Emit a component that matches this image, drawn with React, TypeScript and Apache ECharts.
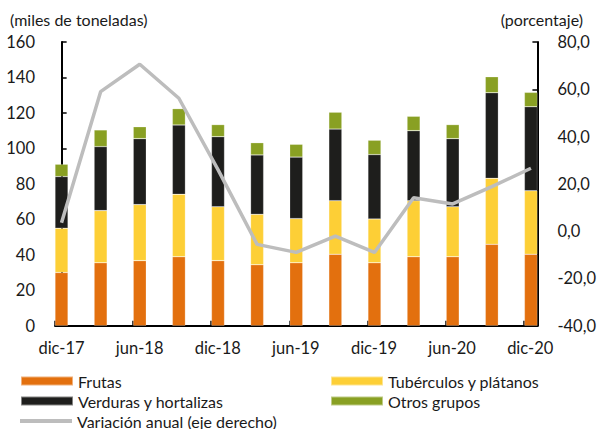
import React, { useEffect, useRef } from "react";
import * as echarts from "echarts";

const categories = ["dic-17", "mar-18", "jun-18", "sep-18", "dic-18", "mar-19", "jun-19", "sep-19", "dic-19", "mar-20", "jun-20", "sep-20", "dic-20"];
const frutas = [30.0, 35.5, 36.7, 38.9, 36.7, 34.4, 35.5, 40.3, 35.5, 38.9, 38.9, 45.9, 40.3];
const tuberculos = [25.0, 29.4, 31.6, 35.2, 30.4, 28.4, 24.9, 30.2, 24.7, 31.6, 28.2, 37.2, 35.8];
const verduras = [29.1, 36.1, 37.2, 39.1, 39.5, 33.5, 34.7, 40.4, 36.3, 39.5, 38.4, 48.3, 47.4];
const otros = [7.0, 9.4, 6.7, 9.2, 6.8, 6.9, 7.2, 9.5, 8.1, 8.1, 7.9, 9.0, 8.1];
const variacion = [3.5, 59.0, 70.6, 56.2, 26.0, -5.6, -9.0, -2.1, -9.0, 14.1, 11.5, 18.8, 26.6];

const FONT = "Lato";
const TXT = "#1a1a1a";
const X_MIN = -0.17;
const X_MAX = 12.18;

export default function App() {
  const ref = useRef<HTMLDivElement>(null);
  useEffect(() => {
    if (!ref.current) return;
    const chart = echarts.init(ref.current, undefined, { renderer: "svg" });
    const barCommon = (name: string, data: number[], color: string) => ({
      name,
      type: "bar",
      stack: "total",
      xAxisIndex: 1,
      yAxisIndex: 2,
      barWidth: 13,
      data,
      itemStyle: { color, borderColor: "rgba(255,255,255,0.45)", borderWidth: 0.5 },
    });
    const legendText = { fontFamily: FONT, fontSize: 16, color: TXT, lineHeight: 20 };
    const axisLineStyle = { show: true, lineStyle: { color: "#000", width: 2 } };
    const tickStyle = { show: true, inside: true, length: 5, lineStyle: { color: "#000", width: 1.5 } };
    const legendBase = {
      orient: "vertical",
      itemWidth: 52,
      itemGap: 0,
      icon: "rect",
      padding: 0,
      textStyle: legendText,
      selectedMode: false,
    };
    chart.setOption({
      animation: false,
      textStyle: { fontFamily: FONT },
      grid: [
        { left: 55, right: 61.3, top: 42, bottom: 103.3, containLabel: false },
        { left: 41.95, right: 48.5, top: 42, bottom: 103.3, containLabel: false },
      ],
      xAxis: [
        {
          type: "value",
          gridIndex: 0,
          min: X_MIN,
          max: X_MAX,
          interval: 2,
          axisLine: axisLineStyle,
          axisTick: tickStyle,
          splitLine: { show: false },
          axisLabel: {
            fontFamily: FONT,
            fontSize: 16.5,
            color: TXT,
            margin: 14,
            padding: [0, 0, 0, 13],
            showMinLabel: true,
            showMaxLabel: true,
            formatter: (v: number) => {
              const r = v - X_MIN;
              const i = Math.round(r);
              if (Math.abs(r - i) < 0.02 && i % 2 === 0 && i < categories.length) return categories[i];
              return "";
            },
          },
        },
        {
          type: "category",
          gridIndex: 1,
          data: categories,
          boundaryGap: true,
          show: false,
        },
      ],
      yAxis: [
        {
          type: "value",
          gridIndex: 0,
          min: 0,
          max: 160,
          interval: 20,
          position: "left",
          axisLine: axisLineStyle,
          axisTick: tickStyle,
          splitLine: { show: false },
          axisLabel: { fontFamily: FONT, fontSize: 16.5, color: TXT, margin: 20 },
        },
        {
          type: "value",
          gridIndex: 0,
          min: -40,
          max: 80,
          interval: 20,
          position: "right",
          axisLine: axisLineStyle,
          axisTick: tickStyle,
          splitLine: { show: false },
          axisLabel: {
            fontFamily: FONT,
            fontSize: 16.5,
            color: TXT,
            margin: 20,
            formatter: (v: number) => v.toFixed(1).replace(".", ","),
          },
        },
        { type: "value", gridIndex: 1, min: 0, max: 160, show: false, splitLine: { show: false } },
        { type: "value", gridIndex: 1, min: -40, max: 80, show: false, splitLine: { show: false } },
      ],
      legend: [
        { ...legendBase, data: ["Frutas", "Verduras y hortalizas"], left: 20, top: 371, itemHeight: 9 },
        {
          ...legendBase,
          data: ["Variación anual (eje derecho)"],
          left: 20,
          top: 411,
          itemHeight: 4,
        },
        { ...legendBase, data: ["Tubérculos y plátanos", "Otros grupos"], left: 330, top: 371, itemHeight: 9 },
      ],
      graphic: [
        {
          type: "text",
          left: 10,
          top: 11,
          style: { text: "(miles de toneladas)", fontFamily: FONT, fontSize: 16, fill: TXT },
        },
        {
          type: "text",
          right: 16,
          top: 11,
          style: { text: "(porcentaje)", fontFamily: FONT, fontSize: 16, fill: TXT },
        },
      ],
      series: [
        barCommon("Frutas", frutas, "#E3700E"),
        barCommon("Tubérculos y plátanos", tuberculos, "#FDCF36"),
        barCommon("Verduras y hortalizas", verduras, "#1E1E1C"),
        barCommon("Otros grupos", otros, "#89A023"),
        {
          name: "Variación anual (eje derecho)",
          type: "line",
          xAxisIndex: 1,
          yAxisIndex: 3,
          data: variacion,
          symbol: "none",
          color: "#BDBDBD",
          itemStyle: { color: "#BDBDBD" },
          lineStyle: { color: "#BDBDBD", width: 3.5 },
          z: 5,
        },
      ],
    });
    return () => chart.dispose();
  }, []);
  return (
    <div
      ref={ref}
      style={{ position: "fixed", left: 0, top: 0, width: 599, height: 429, background: "#fff" }}
    />
  );
}
